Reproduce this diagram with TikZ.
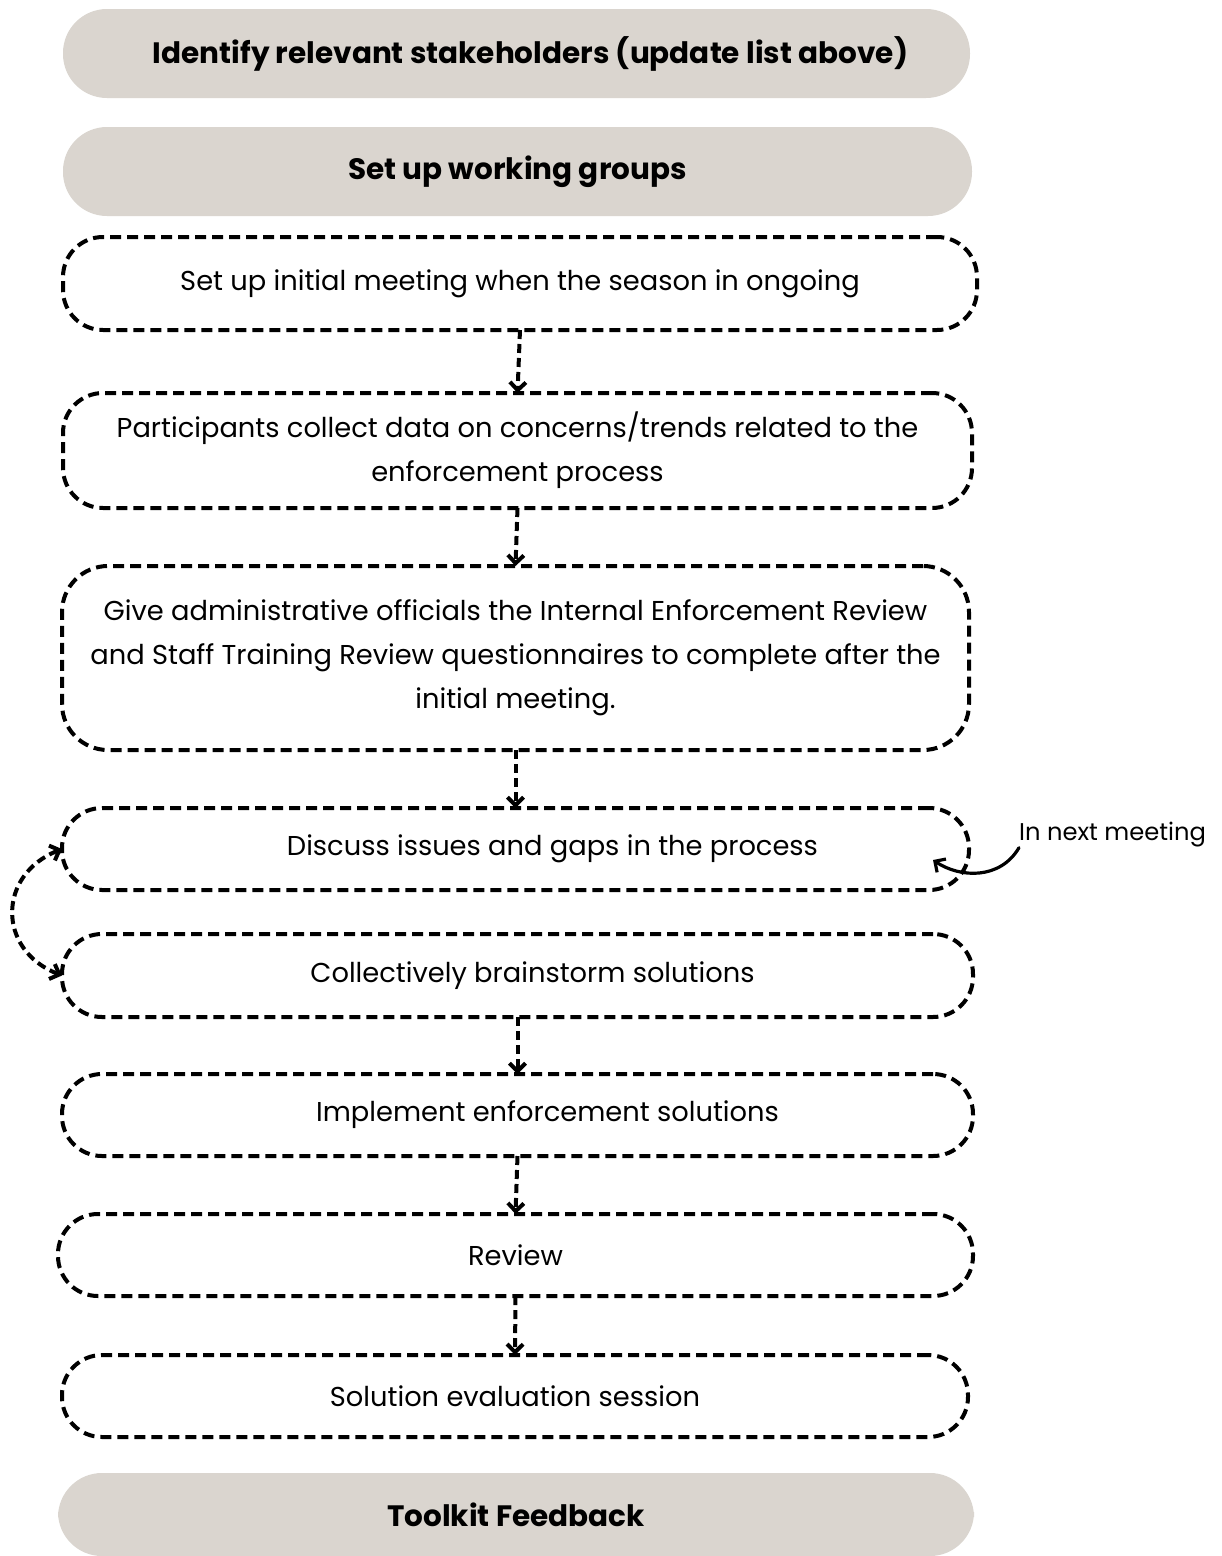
\documentclass[tikz,border=0pt]{standalone}
\usepackage{fontspec}
\setmainfont{Poppins}
\usetikzlibrary{arrows.meta}
\definecolor{pill}{RGB}{218,213,207}
\begin{document}
\begin{tikzpicture}[x=1pt,y=-1pt,
  pillbox/.style={fill=pill, draw=none, rounded corners=44pt, outer sep=0pt, inner sep=0pt, align=center,
    font=\fontsize{29.5}{34}\selectfont\bfseries},
  dbox/.style={draw=black, line width=4pt, dash pattern=on 11pt off 6pt, rounded corners=40pt,
    outer sep=0pt, inner sep=0pt, align=center, font=\fontsize{27.3}{44}\selectfont},
  arr/.style={draw=black, line width=4pt, dash pattern=on 9pt off 5pt,
    -{Straight Barb[length=8pt,width=16pt,line width=4pt]}},
  darr/.style={draw=black, line width=4pt, dash pattern=on 9pt off 5pt,
    {Straight Barb[length=8pt,width=16pt,line width=4pt]}-{Straight Barb[length=8pt,width=16pt,line width=4pt]}},
  sarr/.style={draw=black, line width=3.2pt, line cap=round,
    -{Straight Barb[length=8pt,width=16pt,line width=3.2pt]}}
]
\useasboundingbox[fill=white] (0,0) rectangle (1222,1556);

\node[pillbox, minimum width=907pt, minimum height=89pt] (n1) at (516.5,53.5)
  {\hspace*{28pt}Identify relevant stakeholders (update list above)};
\node[pillbox, minimum width=909pt, minimum height=89pt] (n2) at (517.5,171.5)
  {Set up working groups};
\node[dbox, minimum width=914pt, minimum height=93pt] (n3) at (520,283.5)
  {Set up initial meeting when the season in ongoing};
\node[dbox, minimum width=909pt, minimum height=115pt] (n4) at (517.5,450.5)
  {Participants collect data on concerns/trends related to the\\enforcement process};
\node[dbox, minimum width=907pt, minimum height=184pt, rounded corners=46pt] (n5) at (515.5,658)
  {Give administrative officials the Internal Enforcement Review\\and Staff Training Review questionnaires to complete after the\\initial meeting.};
\node[dbox, minimum width=907pt, minimum height=82pt] (n6) at (515.5,849)
  {\hspace*{74pt}Discuss issues and gaps in the process};
\node[dbox, minimum width=911pt, minimum height=83pt] (n7) at (517.5,975.5)
  {\hspace*{30pt}Collectively brainstorm solutions};
\node[dbox, minimum width=911pt, minimum height=82pt] (n8) at (517.5,1115)
  {\hspace*{60pt}Implement enforcement solutions};
\node[dbox, minimum width=915pt, minimum height=82pt] (n9) at (515.5,1255)
  {Review};
\node[dbox, minimum width=906pt, minimum height=82pt] (n10) at (515,1396)
  {Solution evaluation session};
\node[pillbox, minimum width=916pt, minimum height=83pt] (n11) at (516,1514.5)
  {Toolkit Feedback};

\node[anchor=west, inner sep=0pt, font=\fontsize{24.2}{28}\selectfont] (nm) at (1019,835) {In next meeting};
\coordinate (tip) at (933,860);

\draw[arr] (n3.south) -- (n4.north);
\draw[arr] (n4.south) -- (n5.north);
\draw[arr] (n5.south) -- (n6.north);
\draw[arr] (n7.south) -- (n8.north);
\draw[arr] (n8.south) -- (n9.north);
\draw[arr] (n9.south) -- (n10.north);

\draw[darr] (n6.west) .. controls (-3,875) and (-3,950) .. (n7.west);
\draw[sarr] (nm.south west) .. controls (1000,880) and (960,878) .. (tip);
\end{tikzpicture}
\end{document}
